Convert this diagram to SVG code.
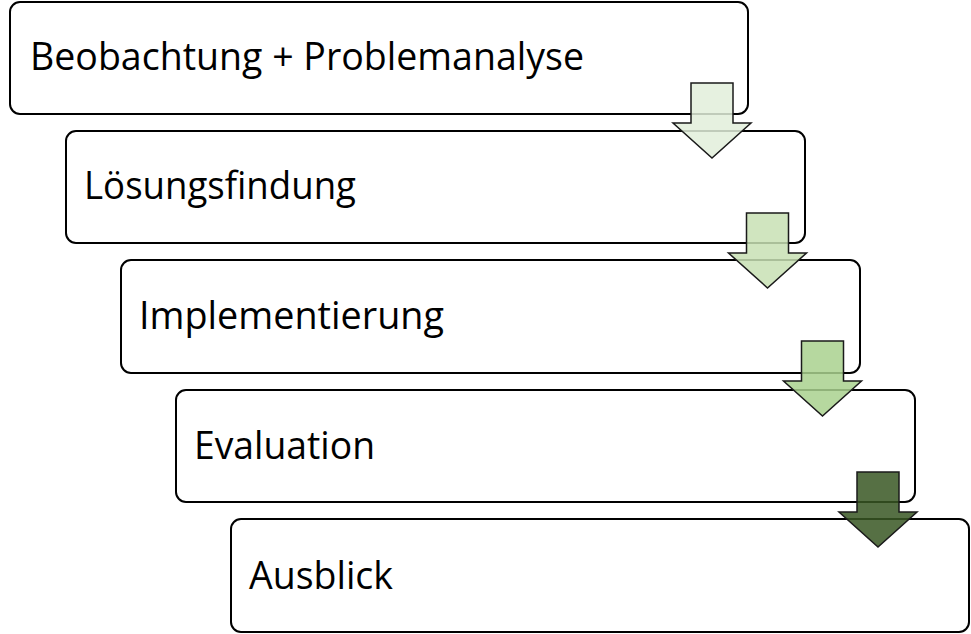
<svg xmlns="http://www.w3.org/2000/svg" width="971" height="634" viewBox="0 0 971 634">
<defs>
<style>
.box{fill:#ffffff;stroke:#000000;stroke-width:2}
.lbl{font-family:"Open Sans","Noto Sans","Liberation Sans",sans-serif;font-size:39px;fill:#000000}
.arr{stroke:#1a1a1a;stroke-width:1.5;stroke-linejoin:miter;fill-opacity:0.85}
</style>
<path id="arrowShape" d="M0,0 H42 V40 H60 L21,75 L-18,40 H0 Z"/>
</defs>
<rect width="971" height="634" fill="#ffffff"/>
<g id="node1">
<rect class="box" x="10" y="2" width="738" height="112" rx="10"/>
<text class="lbl" x="30" y="70" textLength="554" lengthAdjust="spacingAndGlyphs">Beobachtung + Problemanalyse</text>
</g>
<g id="node2">
<rect class="box" x="66" y="131" width="739" height="112" rx="10"/>
<text class="lbl" x="84" y="199" textLength="272" lengthAdjust="spacingAndGlyphs">Lösungsfindung</text>
</g>
<g id="node3">
<rect class="box" x="121" y="260" width="739" height="113" rx="10"/>
<text class="lbl" x="139" y="329" textLength="305" lengthAdjust="spacingAndGlyphs">Implementierung</text>
</g>
<g id="node4">
<rect class="box" x="176" y="390" width="739" height="112" rx="10"/>
<text class="lbl" x="194" y="459" textLength="181" lengthAdjust="spacingAndGlyphs">Evaluation</text>
</g>
<g id="node5">
<rect class="box" x="231" y="519" width="738" height="113" rx="10"/>
<text class="lbl" x="249" y="589" textLength="144" lengthAdjust="spacingAndGlyphs">Ausblick</text>
</g>
<g id="connectors">
<use href="#arrowShape" class="arr" fill="#e2efda" transform="translate(691,83)"/>
<use href="#arrowShape" class="arr" fill="#c8e0b4" transform="translate(746.5,213)"/>
<use href="#arrowShape" class="arr" fill="#a9d18e" transform="translate(801.5,341)"/>
<use href="#arrowShape" class="arr" fill="#385723" transform="translate(857,472)"/>
</g>
</svg>
